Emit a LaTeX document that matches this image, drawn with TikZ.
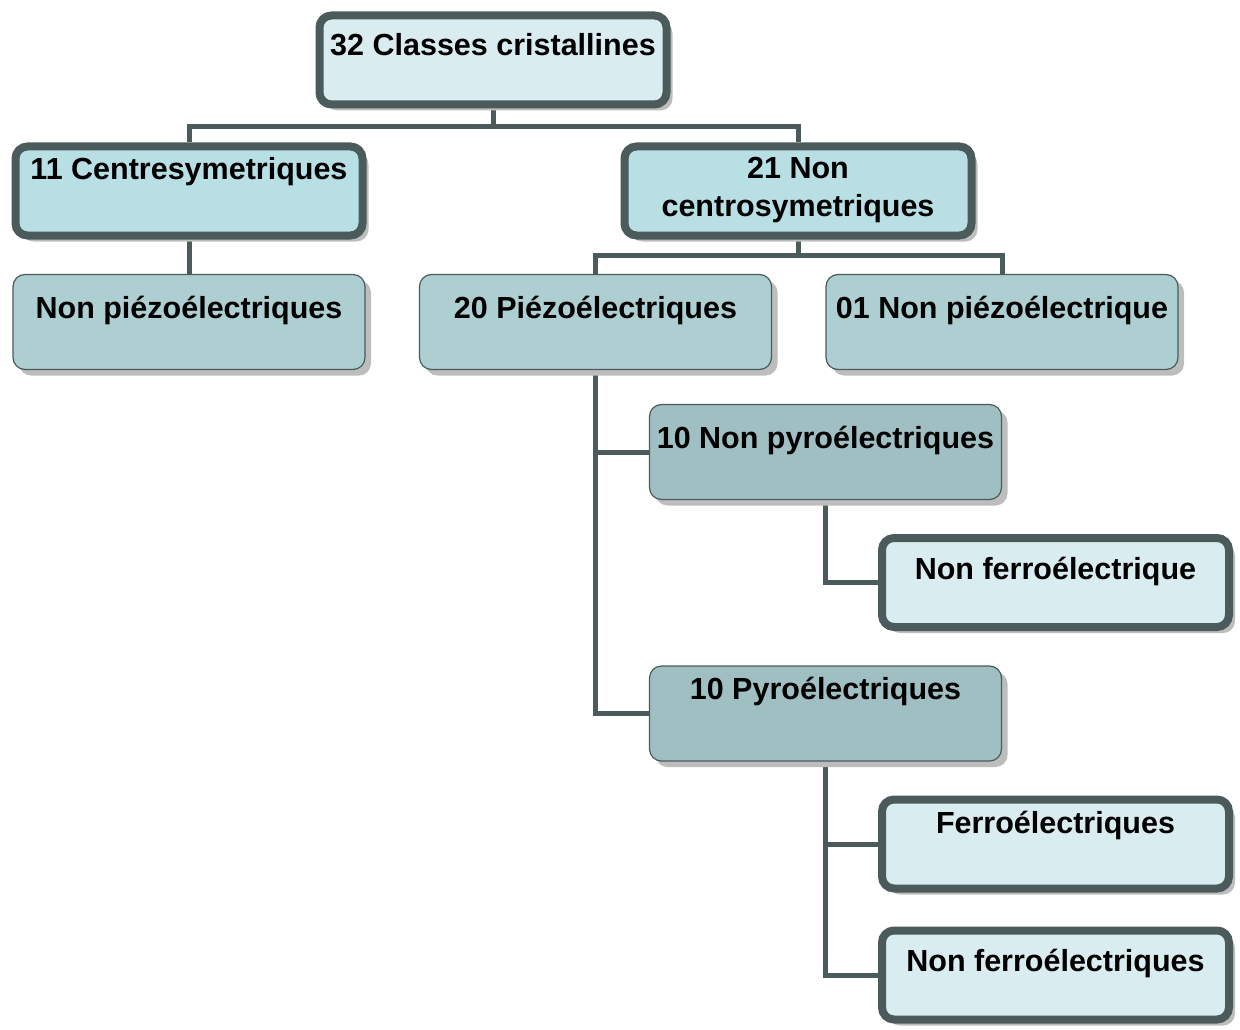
\documentclass[tikz,border=0pt]{standalone}
\usepackage{fontspec}
\setmainfont{Liberation Sans}
\usetikzlibrary{shadows,backgrounds,calc}
\definecolor{bord}{HTML}{4B5A5B}
\definecolor{fa}{HTML}{D9EDF0}
\definecolor{fb}{HTML}{B8DFE3}
\definecolor{fc}{HTML}{AECFD2}
\definecolor{fd}{HTML}{A0BFC2}
\definecolor{shad}{HTML}{BDBDBD}
\tikzset{
  boxbase/.style={rectangle, rounded corners=12pt, inner sep=0pt, draw=bord,
    drop shadow={shadow xshift=6pt, shadow yshift=-6pt, fill=shad, opacity=1}},
  thickbox/.style={boxbase, line width=8pt, minimum width=347pt, minimum height=89pt},
  thinbox/.style={boxbase, line width=1.2pt, minimum width=352pt, minimum height=95pt},
  lbl/.style={inner sep=0pt, font=\bfseries\fontsize{30.5}{38}\selectfont, align=center},
  conn/.style={draw=bord, line width=5pt}
}
\begin{document}
\begin{tikzpicture}[x=1pt,y=-1pt]
\useasboundingbox (0,0) rectangle (1240,1030);
% boxes
\node[thickbox, fill=fa] (b1) at (493,60) {};
\node[thickbox, fill=fb] (b2) at (189,191) {};
\node[thickbox, fill=fb] (b3) at (798,191) {};
\node[thinbox, fill=fc] (b4) at (189,322) {};
\node[thinbox, fill=fc] (b5) at (595.5,322) {};
\node[thinbox, fill=fc] (b6) at (1002,322) {};
\node[thinbox, fill=fd] (b7) at (825.5,452) {};
\node[thickbox, fill=fa] (b8) at (1055.5,582.5) {};
\node[thinbox, fill=fd] (b9) at (825.5,713.5) {};
\node[thickbox, fill=fa] (b10) at (1055.5,844) {};
\node[thickbox, fill=fa] (b11) at (1055.5,975) {};
% labels
\node[lbl, anchor=base] (t1) at (493,56) {32 Classes cristallines};
\node[lbl, anchor=base] (t2) at (189,179) {11 Centresymetriques};
\node[lbl, anchor=north] (t3) at (798,157) {21 Non\\centrosymetriques};
\node[lbl, anchor=base] (t4) at (189,318) {Non piézoélectriques};
\node[lbl, anchor=base] (t5) at (595.5,318) {20 Piézoélectriques};
\node[lbl, anchor=base] (t6) at (1002,318) {01 Non piézoélectrique};
\node[lbl, anchor=base] (t7) at (825.5,448) {10 Non pyroélectriques};
\node[lbl, anchor=base] (t8) at (1055.5,579) {Non ferroélectrique};
\node[lbl, anchor=base] (t9) at (825.5,699) {10 Pyroélectriques};
\node[lbl, anchor=base] (t10) at (1055.5,833) {Ferroélectriques};
\node[lbl, anchor=base] (t11) at (1055.5,971) {Non ferroélectriques};
% connectors
\begin{scope}[on background layer]
\coordinate (j1) at ($(b1.south)+(0,18)$);
\draw[conn] (b1.south) -- (j1) -| (b2.north);
\draw[conn] (j1) -| (b3.north);
\draw[conn] (b2.south) -- (b4.north);
\coordinate (j2) at ($(b3.south)+(0,16)$);
\draw[conn] (b3.south) -- (j2) -| (b5.north);
\draw[conn] (j2) -| (b6.north);
\draw[conn] (b5.south) |- (b7.west);
\draw[conn] (b5.south) |- (b9.west);
\draw[conn] (b7.south) |- (b8.west);
\draw[conn] (b9.south) |- (b10.west);
\draw[conn] (b9.south) |- (b11.west);
\end{scope}
\end{tikzpicture}
\end{document}
